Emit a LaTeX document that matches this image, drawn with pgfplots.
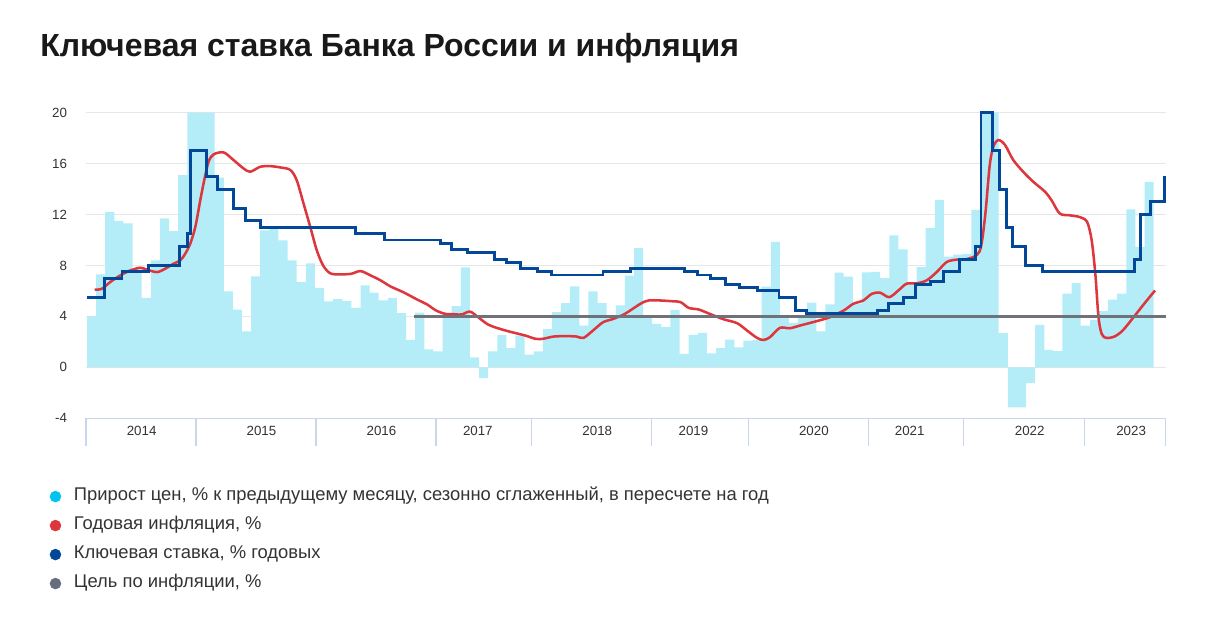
\documentclass[border=0pt]{standalone}
\usepackage{fontspec}
\setmainfont{Liberation Sans}
\usepackage{pgfplots}
\usepackage{pgfplotstable}
\pgfplotsset{compat=1.18}

\definecolor{cbar}{RGB}{180,236,248}
\definecolor{cbardot}{RGB}{0,195,240}
\definecolor{cred}{RGB}{221,55,61}
\definecolor{cblue}{RGB}{3,72,152}
\definecolor{cgray}{RGB}{112,114,122}
\definecolor{cgraydot}{RGB}{104,109,125}
\definecolor{cgrid}{RGB}{230,230,230}
\definecolor{caxis}{RGB}{204,214,235}
\definecolor{ctext}{RGB}{51,51,51}

% monthly price growth, saar (bar index, value)
\pgfplotstableread{
i v
0 4.0
1 7.3
2 12.2
3 11.5
4 11.3
5 7.7
6 5.46
7 8.4
8 11.7
9 10.7
10 15.1
11 20
12 20
13 20
14 14.9
15 5.96
16 4.54
17 2.83
18 7.14
19 10.75
20 10.95
21 9.97
22 8.4
23 6.7
24 8.17
25 6.25
26 5.18
27 5.35
28 5.22
29 4.67
30 6.43
31 5.86
32 5.25
33 5.46
34 4.25
35 2.15
36 4.3
37 1.42
38 1.26
39 4.1
40 4.8
41 7.85
42 0.79
43 -0.85
44 1.26
45 2.55
46 1.5
47 2.5
48 1.0
49 1.26
50 3.0
51 4.33
52 5.04
53 6.35
54 3.28
55 5.96
56 5.04
57 4.05
58 4.86
59 7.2
60 9.36
61 3.87
62 3.41
63 3.15
64 4.52
65 1.05
66 2.55
67 2.7
68 1.1
69 1.5
70 2.18
71 1.56
72 2.1
73 2.16
74 6.33
75 9.85
76 3.88
77 3.5
78 4.0
79 5.09
80 2.83
81 4.94
82 7.43
83 7.12
84 5.0
85 7.46
86 7.5
87 7.0
88 10.37
89 9.27
90 6.7
91 7.87
92 10.95
93 13.15
94 8.7
95 8.85
96 8.9
97 12.37
98 20
99 20
100 2.68
101 -3.15
102 -3.15
103 -1.23
104 3.34
105 1.37
106 1.27
107 5.78
108 6.61
109 3.28
110 3.73
111 4.41
112 5.31
113 5.78
114 12.4
115 9.45
116 14.57
117 0
}\bars

\begin{document}
\begin{tikzpicture}
\path[use as bounding box] (0,0) rectangle (911.25pt,-474pt);

\node[anchor=base west, inner sep=0pt, text=black!90,
  font=\bfseries\fontsize{24}{28}\selectfont] at (30pt,-42pt)
  {Ключевая ставка Банка России и инфляция};

\begin{axis}[
at={(64.5pt,-313.7pt)}, anchor=south west,
scale only axis, width=809.7pt, height=229.2pt,
xmin=-0.11, xmax=118.31, ymin=-4, ymax=20,
axis line style={draw=none},
clip=false,
ytick={0,4,8,12,16,20},
yticklabels={0,4,8,12,16,20},
extra y ticks={-4}, extra y tick labels={-4},
extra y tick style={grid=major, major grid style={draw=caxis, line width=1pt}},
ymajorgrids,
major grid style={draw=cgrid, line width=0.75pt},
ytick style={draw=none},
major tick length=0pt,
xtick={5.99,19.14,32.30,42.87,55.97,66.52,79.73,90.24,103.40,114.53},
xticklabels={2014,2015,2016,2017,2018,2019,2020,2021,2022,2023},
xtick style={draw=none},
tick label style={font=\fontsize{10}{12}\selectfont, text=ctext},
yticklabel style={anchor=east, inner sep=0pt, xshift=-14pt},
xticklabel style={anchor=center, inner sep=0pt, yshift=-9.75pt},
legend style={at={(-0.0336,-0.227)}, anchor=north west, draw=none, fill=none,
  inner sep=0pt, font=\fontsize{13.8}{16}\selectfont, text=ctext,
  row sep=8.75pt, column sep=9.75pt,
  nodes={inner sep=0pt, text height=9.5pt, text depth=3.5pt}},
legend cell align=left,
]
\addplot[ybar interval, fill=cbar, draw=none, forget plot] table[x=i, y=v] {\bars};

% annual inflation
\addplot[smooth, color=cred, line width=1.9pt, forget plot] coordinates {
(0.83,6.1) (1.64,6.17) (2.55,6.7) (3.65,7.22) (4.75,7.61) (5.84,7.82) (6.58,7.67)
(7.68,7.48) (8.59,7.75) (9.5,8.14) (10.23,8.4) (10.78,8.93) (11.33,9.72) (11.88,11.02)
(12.42,13.1) (12.86,14.7) (13.33,16.14) (13.88,16.72) (14.98,16.88) (16.07,16.28)
(17.17,15.62) (17.9,15.36) (19.0,15.75) (20.1,15.8) (21.2,15.7) (22.3,15.5) (23.0,14.7)
(23.75,12.87) (24.5,11.0) (25.2,9.2) (25.9,8.0) (26.7,7.38) (27.8,7.3) (29.0,7.35)
(30.0,7.56) (31.1,7.22) (32.2,6.83) (33.3,6.35) (34.7,5.9) (36.2,5.33) (37.3,4.94)
(38.3,4.46) (39.3,4.2) (40.3,4.17) (41.1,4.15) (42.0,4.38) (42.9,3.94) (44.0,3.36)
(45.3,3.02) (46.6,2.76) (48.06,2.5) (49.2,2.24) (50.0,2.24) (51.2,2.42) (52.6,2.45)
(53.7,2.42) (54.45,2.31) (55.5,2.89) (56.6,3.54) (57.7,3.8) (59.0,4.2) (60.7,4.99)
(61.6,5.25) (62.9,5.25) (64.0,5.2) (65.1,5.12) (66.0,4.67) (67.1,4.54) (68.3,4.2)
(69.8,3.78) (71.3,3.47) (72.4,2.89) (73.5,2.31) (74.2,2.15) (74.9,2.36) (76.0,3.1)
(77.1,3.07) (78.3,3.3) (80.0,3.62) (81.5,3.94) (83.0,4.46) (84.05,4.99) (85.15,5.25)
(86.1,5.78) (87.0,5.86) (88.0,5.51) (89.0,6.04) (89.9,6.57) (91.0,6.6) (92.1,6.83)
(93.2,7.48) (94.3,8.27) (95.4,8.46) (96.5,8.5) (97.9,9.1) (98.5,11.8) (99.0,15.75)
(99.4,17.3) (99.96,17.85) (100.7,17.46) (101.6,16.28) (102.7,15.35) (103.8,14.57)
(105.1,13.78) (105.8,13.12) (106.7,12.08) (107.8,11.94) (108.9,11.8) (109.7,11.42)
(110.2,9.98) (110.6,7.35) (110.95,3.94) (111.3,2.63) (111.8,2.31) (112.7,2.42)
(113.6,2.89) (114.8,3.94) (115.9,4.94) (117.15,6.04)};

% key rate
\addplot[const plot, color=cblue, line width=2.2pt, forget plot] coordinates {
(0.05,5.5) (1.93,7.0) (3.84,7.5) (6.76,8.0) (10.1,9.5) (11.0,10.5) (11.33,17.0)
(13.08,15.0) (14.36,14.0) (16.08,12.5) (17.43,11.5) (19.0,11.0) (29.5,10.5)
(32.6,10.0) (38.8,9.75) (40.0,9.25) (41.7,9.0) (44.7,8.5) (46.05,8.25) (47.6,7.75)
(49.45,7.5) (50.9,7.25) (56.6,7.5) (59.65,7.75) (65.5,7.5) (67.0,7.25) (68.4,7.0)
(70.0,6.5) (71.6,6.25) (73.5,6.0) (75.9,5.5) (77.7,4.5) (78.9,4.25) (86.7,4.5)
(87.95,5.0) (89.6,5.5) (90.9,6.5) (92.5,6.75) (93.9,7.5) (95.75,8.5) (97.5,9.5)
(98.06,20) (99.3,17) (100.1,14) (100.9,11) (101.5,9.5) (102.9,8.0) (104.8,7.5)
(114.9,8.5) (115.6,12) (116.7,13) (118.15,15)};

% inflation target
\addplot[color=cgray, line width=2.2pt, forget plot] coordinates {(35.9,4) (118.31,4)};

% year separators below the axis
\draw[caxis, line width=0.9pt]
  (axis cs:-0.11,-4) -- ++(0pt,-21pt)
  (axis cs:11.95,-4) -- ++(0pt,-21pt)
  (axis cs:25.11,-4) -- ++(0pt,-21pt)
  (axis cs:38.27,-4) -- ++(0pt,-21pt)
  (axis cs:48.79,-4) -- ++(0pt,-21pt)
  (axis cs:61.95,-4) -- ++(0pt,-21pt)
  (axis cs:72.54,-4) -- ++(0pt,-21pt)
  (axis cs:85.70,-4) -- ++(0pt,-21pt)
  (axis cs:96.12,-4) -- ++(0pt,-21pt)
  (axis cs:109.39,-4) -- ++(0pt,-21pt)
  (axis cs:118.31,-4) -- ++(0pt,-21pt);

\addlegendimage{only marks, mark=*, mark size=4.1pt, cbardot}
\addlegendentry{Прирост цен, \% к предыдущему месяцу, сезонно сглаженный, в пересчете на год}
\addlegendimage{only marks, mark=*, mark size=4.1pt, cred}
\addlegendentry{Годовая инфляция, \%}
\addlegendimage{only marks, mark=*, mark size=4.1pt, cblue}
\addlegendentry{Ключевая ставка, \% годовых}
\addlegendimage{only marks, mark=*, mark size=4.1pt, cgraydot}
\addlegendentry{Цель по инфляции, \%}
\end{axis}
\end{tikzpicture}
\end{document}
